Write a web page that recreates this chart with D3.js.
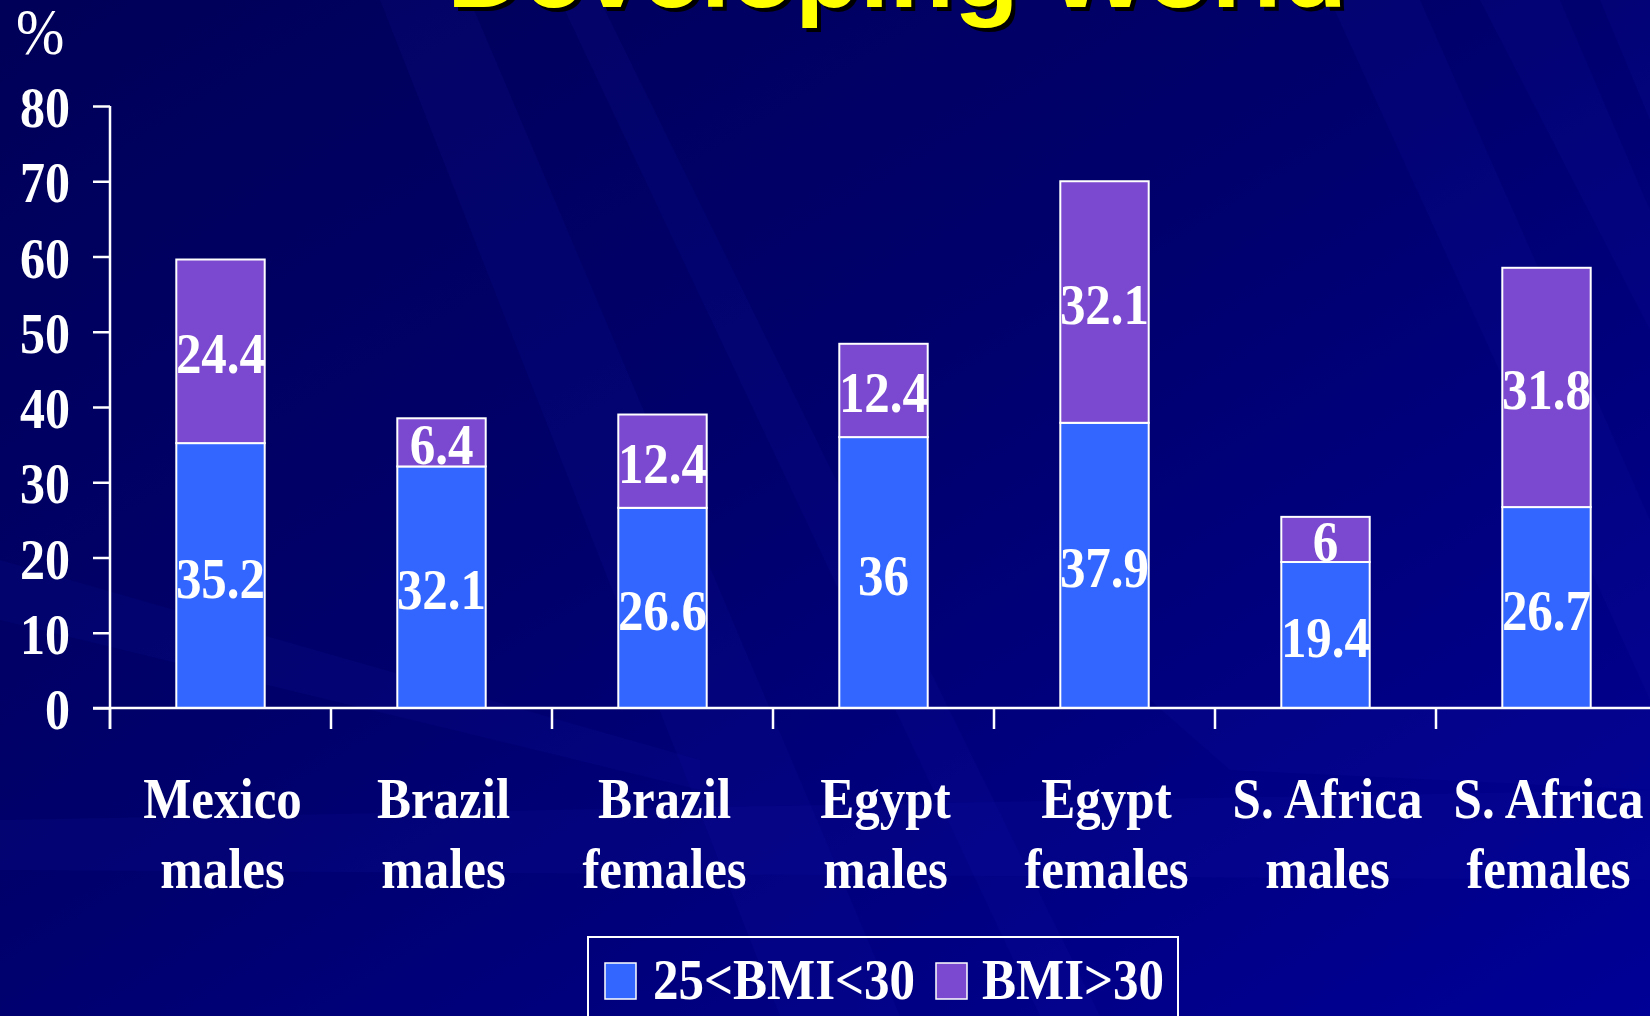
<!DOCTYPE html>
<html>
<head>
<meta charset="utf-8">
<script src="https://cdn.jsdelivr.net/npm/d3@7"></script>
<style>
  html, body { margin: 0; padding: 0; background: #000070; overflow: hidden; }
  text { font-family: "Liberation Serif", "Times New Roman", serif; fill: #fff; }
</style>
</head>
<body>
<div id="chart"></div>
<script>
// data
var categories = ["Mexico males", "Brazil males", "Brazil females", "Egypt males", "Egypt females", "S. Africa males", "S. Africa females"];
var catLines = [["Mexico", "males"], ["Brazil", "males"], ["Brazil", "females"], ["Egypt", "males"], ["Egypt", "females"], ["S. Africa", "males"], ["S. Africa", "females"]];
var overweight = [35.2, 32.1, 26.6, 36, 37.9, 19.4, 26.7];   // 25<BMI<30
var obese = [24.4, 6.4, 12.4, 12.4, 32.1, 6, 31.8];          // BMI>30
var seriesNames = ["25<BMI<30", "BMI>30"];
var yTicks = [0, 10, 20, 30, 40, 50, 60, 70, 80];

var width = 1650;
var height = 1016;
var colors = ["#3366ff", "#7b49cf"];
var stretch = 1.13;   // slide text is a bit taller than normal Times

var svg = d3.select("#chart")
    .append("svg")
    .attr("width", width)
    .attr("height", height);

// background: dark navy with diagonal light streaks
var defs = svg.append("defs");
var grad = defs.append("linearGradient")
    .attr("id", "bg")
    .attr("x1", "0").attr("y1", "0")
    .attr("x2", "1").attr("y2", "1");
grad.append("stop").attr("offset", "0").attr("stop-color", "#000058");
grad.append("stop").attr("offset", "0.45").attr("stop-color", "#00006c");
grad.append("stop").attr("offset", "1").attr("stop-color", "#000096");

svg.append("rect")
    .attr("width", width)
    .attr("height", height)
    .attr("fill", "url(#bg)");

var streaks = [
  [[380, 0], [470, 0], [900, 1016], [780, 1016]],
  [[560, 0], [600, 0], [1100, 1016], [1040, 1016]],
  [[1330, 0], [1420, 0], [1650, 520], [1650, 700]],
  [[1480, 0], [1560, 0], [1650, 210], [1650, 330]],
  [[1600, 0], [1650, 0], [1650, 120]],
  [[0, 560], [700, 760], [700, 790], [0, 620]],
  [[0, 820], [1650, 790], [1650, 880], [0, 870]],
  [[1150, 700], [1650, 700], [1650, 790], [1230, 770]]
];
svg.append("g").selectAll("path")
    .data(streaks)
    .enter().append("path")
    .attr("d", function(d) { return "M" + d.join("L") + "Z"; })
    .attr("fill", "#1a1ab8")
    .attr("opacity", 0.11);

// scales
var x = d3.scaleBand()
    .domain(categories)
    .range([110, 110 + 7 * 221])
    .paddingInner(0.6)
    .paddingOuter(0.3);

var xTickScale = d3.scaleBand()
    .domain(categories)
    .range([110, 110 + 7 * 221]);

var y = d3.scaleLinear()
    .domain([0, 80])
    .range([708, 106]);

// helper for the slightly stretched slide text
function sText(g, tx, ty, str, size, anchor, weight) {
  return g.append("text")
      .attr("transform", "translate(" + tx + "," + ty + ") scale(1," + stretch + ")")
      .attr("text-anchor", anchor)
      .attr("font-size", size)
      .attr("font-weight", weight || "bold")
      .text(str);
}

// title, mostly cut off at the top of the frame
var title = svg.append("g");
title.append("text")
    .attr("x", 451).attr("y", 11)
    .attr("textLength", 900).attr("lengthAdjust", "spacingAndGlyphs")
    .attr("font-size", 100).attr("font-weight", "bold")
    .style("font-family", "Liberation Sans, Arial, sans-serif")
    .style("fill", "#000")
    .text("Developing World");
title.append("text")
    .attr("x", 447).attr("y", 7)
    .attr("textLength", 900).attr("lengthAdjust", "spacingAndGlyphs")
    .attr("font-size", 100).attr("font-weight", "bold")
    .style("font-family", "Liberation Sans, Arial, sans-serif")
    .style("fill", "#ffff00")
    .text("Developing World");

// axis unit
sText(svg, 16, 54, "%", 58, "start", "normal");

// bars
var stack = categories.map(function(c, i) {
  return [
    {cat: c, y0: 0, y1: overweight[i], v: overweight[i], s: 0},
    {cat: c, y0: overweight[i], y1: overweight[i] + obese[i], v: obese[i], s: 1}
  ];
});
var segs = [].concat.apply([], stack);

svg.append("g").selectAll("rect")
    .data(segs)
    .enter().append("rect")
    .attr("x", function(d) { return x(d.cat); })
    .attr("width", x.bandwidth())
    .attr("y", function(d) { return y(d.y1); })
    .attr("height", function(d) { return y(d.y0) - y(d.y1); })
    .attr("fill", function(d) { return colors[d.s]; })
    .attr("stroke", "#fff")
    .attr("stroke-width", 2);

var valG = svg.append("g");
segs.forEach(function(d) {
  var cy = (y(d.y0) + y(d.y1)) / 2;
  sText(valG, x(d.cat) + x.bandwidth() / 2, cy + 22, d.v, 51, "middle");
});

// y axis
var yAxis = d3.axisLeft(y)
    .tickValues(yTicks)
    .tickSize(17)
    .tickFormat("");
var yG = svg.append("g")
    .attr("transform", "translate(110,0)")
    .call(yAxis);
yG.select(".domain").remove();
yG.selectAll("line").attr("stroke", "#fff").attr("stroke-width", 2.5);
svg.append("line")
    .attr("x1", 110).attr("x2", 110)
    .attr("y1", y(80)).attr("y2", 729)
    .attr("stroke", "#fff").attr("stroke-width", 2.5);

var yLab = svg.append("g");
yTicks.forEach(function(t) {
  sText(yLab, 70, y(t) + 21, t, 50, "end");
});

// x axis
svg.append("line")
    .attr("x1", 93).attr("x2", width)
    .attr("y1", y(0)).attr("y2", y(0))
    .attr("stroke", "#fff").attr("stroke-width", 2.5);
svg.append("g").selectAll("line")
    .data(categories)
    .enter().append("line")
    .attr("x1", function(d) { return xTickScale(d); })
    .attr("x2", function(d) { return xTickScale(d); })
    .attr("y1", y(0)).attr("y2", 729)
    .attr("stroke", "#fff").attr("stroke-width", 2.5);

var xLab = svg.append("g");
categories.forEach(function(c, i) {
  var cx = xTickScale(c) + xTickScale.bandwidth() / 2 + 2;
  sText(xLab, cx, 818, catLines[i][0], 51, "middle");
  sText(xLab, cx, 888, catLines[i][1], 51, "middle");
});

// legend
var leg = svg.append("g");
leg.append("rect")
    .attr("x", 588).attr("y", 937)
    .attr("width", 590).attr("height", 100)
    .attr("fill", "none")
    .attr("stroke", "#fff").attr("stroke-width", 2);
var legX = [605, 936];
var legTextX = [653, 982];
seriesNames.forEach(function(n, i) {
  leg.append("rect")
      .attr("x", legX[i]).attr("y", 963)
      .attr("width", 31).attr("height", 36)
      .attr("fill", colors[i])
      .attr("stroke", "#fff").attr("stroke-width", 1.5);
  sText(leg, legTextX[i], 999, n, 51, "start");
});
</script>
</body>
</html>
